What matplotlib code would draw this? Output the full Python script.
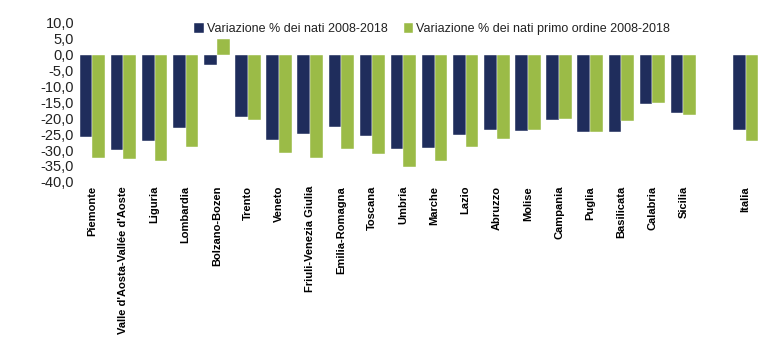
import matplotlib
matplotlib.use("Agg")
import matplotlib.pyplot as plt
from matplotlib.ticker import FuncFormatter, FixedLocator
import numpy as np

regions = ["Piemonte", "Valle d'Aosta-Vallée d'Aoste", "Liguria", "Lombardia",
           "Bolzano-Bozen", "Trento", "Veneto", "Friuli-Venezia Giulia",
           "Emilia-Romagna", "Toscana", "Umbria", "Marche", "Lazio", "Abruzzo",
           "Molise", "Campania", "Puglia", "Basilicata", "Calabria", "Sicilia",
           "Italia"]
nati = [-26.0, -30.0, -27.1, -23.2, -3.2, -19.6, -26.9, -25.1, -22.8, -25.7,
        -29.6, -29.4, -25.4, -23.6, -24.1, -20.7, -24.2, -24.4, -15.6, -18.5,
        -23.6]
primo = [-32.6, -32.9, -33.6, -29.0, 5.0, -20.5, -30.9, -32.4, -29.6, -31.3,
         -35.3, -33.6, -29.0, -26.6, -23.7, -20.3, -24.2, -20.8, -15.1, -19.1,
         -27.3]
series_names = ["Variazione % dei nati 2008-2018",
                "Variazione % dei nati primo ordine 2008-2018"]
yticks = [10, 5, 0, -5, -10, -15, -20, -25, -30, -35, -40]

fig = plt.figure(figsize=(7.76, 3.53), dpi=100)
ax = fig.add_axes([0.099, 0.485, 0.882, 0.45])

pos = np.array(list(range(len(regions) - 1)) + [len(regions)], dtype=float)
w = 0.41
c1 = "#1F2D5C"
c2 = "#9BBB47"
ax.bar(pos - w / 2, nati, w, color=c1, label=series_names[0], edgecolor="white", linewidth=0.3)
ax.bar(pos + w / 2, primo, w, color=c2, label=series_names[1], edgecolor="white", linewidth=0.3)

ax.set_xlim(-0.5, pos[-1] + 0.5)
ax.set_ylim(-40, 10)
ax.yaxis.set_major_locator(FixedLocator(yticks))
ax.yaxis.set_major_formatter(FuncFormatter(lambda v, p: f"{v:.1f}".replace(".", ",")))
for s in ax.spines.values():
    s.set_visible(False)
ax.tick_params(axis="y", length=0, pad=2, labelsize=10.5)
for t in ax.get_yticklabels():
    t.set_fontfamily("Liberation Sans")
    t.set_color("#222222")
ax.set_xticks(pos)
ax.set_xticklabels(regions, rotation=90, fontsize=8, fontweight="bold",
                   fontfamily="Liberation Sans", va="top")
ax.tick_params(axis="x", length=0, pad=3)

leg = fig.legend(loc="center", bbox_to_anchor=(0.557, 0.917), ncol=2, frameon=False,
                 handlelength=0.75, handleheight=0.75, handletextpad=0.25, columnspacing=1.3,
                 prop={"family": "Liberation Sans", "size": 9})
for t in leg.get_texts():
    t.set_color("#222222")

fig.savefig("out.png", dpi=100)
